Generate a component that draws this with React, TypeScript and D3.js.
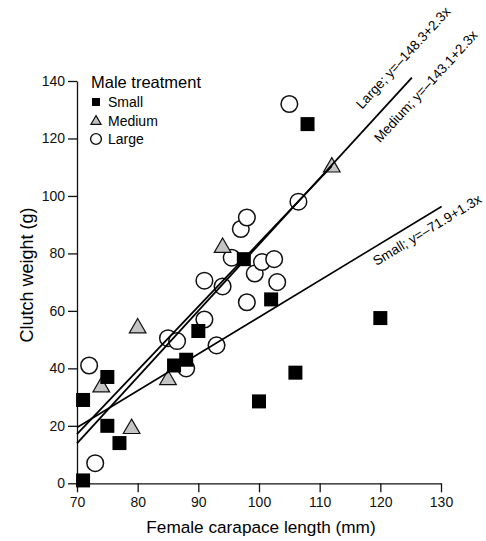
import React, { useEffect, useRef } from "react";
import * as d3 from "d3";

// Female carapace length (mm), clutch weight (g) by male treatment
const smallMales = [
  [71, 1], [71, 29], [75, 37], [75, 20], [77, 14], [86, 41], [88, 43], [90, 53],
  [97.5, 78], [102, 64], [100, 28.5], [106, 38.5], [108, 125], [120, 57.5],
];
const mediumMales = [
  [74, 33.5], [79, 19], [80, 54], [85, 36], [94, 82], [112, 110],
];
const largeMales = [
  [72, 41], [73, 7], [85, 50.5], [86.5, 49.5], [88, 40], [91, 57], [91, 70.5],
  [93, 48], [94, 68.5], [95.5, 78.5], [97, 88.5], [98, 92.5], [98, 63],
  [99.3, 73], [100.5, 77], [102.5, 78], [103, 70], [106.5, 98], [105, 132],
];

// regression lines as drawn in the figure: intercept, slope, x range, printed label
const fits = [
  { name: "Large", a: -147.5, b: 2.306, from: 70, to: 125.2, label: "Large; y=\u2013148.3+2.3x" },
  { name: "Medium", a: -138.3, b: 2.22, from: 70, to: 112, label: "Medium; y=\u2013143.1+2.3x" },
  { name: "Small", a: -70.2, b: 1.28, from: 70, to: 130.1, label: "Small; y=\u201371.9+1.3x" },
];

const xTicks = [70, 80, 90, 100, 110, 120, 130];
const yTicks = [0, 20, 40, 60, 80, 100, 120, 140];
const legendItems = ["Small", "Medium", "Large"];

const FONT = "'Liberation Sans', Arial, Helvetica, sans-serif";

const App = () => {
  const chartRef = useRef<SVGSVGElement>(null);

  useEffect(() => {
    const width = 486;
    const height = 541;

    const svg = d3.select(chartRef.current);
    svg.selectAll("*").remove();
    svg.attr("width", width).attr("height", height);

    const x = d3.scaleLinear().domain([70, 130]).range([77, 441]);
    const y = d3.scaleLinear().domain([0, 140]).range([483.3, 81]);

    // Axes
    const xAxis = svg
      .append("g")
      .attr("transform", `translate(0,${y(0)})`)
      .call(d3.axisBottom(x).tickValues(xTicks).tickSizeInner(9).tickSizeOuter(0).tickPadding(5));
    const yAxis = svg
      .append("g")
      .attr("transform", `translate(${x(70)},0)`)
      .call(d3.axisLeft(y).tickValues(yTicks).tickSizeInner(9).tickSizeOuter(0).tickPadding(3));

    [xAxis, yAxis].forEach((g) => {
      g.selectAll("path, line").attr("stroke", "#111").attr("stroke-width", 1.3);
      g.selectAll("text").attr("font-family", FONT).attr("font-size", 14).attr("fill", "#111");
    });

    // Axis titles
    svg
      .append("text")
      .attr("x", 261)
      .attr("y", 533)
      .attr("text-anchor", "middle")
      .attr("font-family", FONT)
      .attr("font-size", 17.2)
      .text("Female carapace length (mm)");

    svg
      .append("text")
      .attr("transform", `translate(33,275) rotate(-90)`)
      .attr("text-anchor", "middle")
      .attr("font-family", FONT)
      .attr("font-size", 18)
      .text("Clutch weight (g)");

    // Markers: circles, triangles, squares
    const tri = d3.symbol().type(d3.symbolTriangle).size(120);

    svg
      .append("g")
      .selectAll("circle")
      .data(largeMales)
      .join("circle")
      .attr("cx", (d) => x(d[0]))
      .attr("cy", (d) => y(d[1]))
      .attr("r", 8.3)
      .attr("fill", "#fff")
      .attr("stroke", "#111")
      .attr("stroke-width", 1.5);

    svg
      .append("g")
      .selectAll("path")
      .data(mediumMales)
      .join("path")
      .attr("transform", (d) => `translate(${x(d[0])},${y(d[1])})`)
      .attr("d", tri)
      .attr("fill", "#c4c4c4")
      .attr("stroke", "#111")
      .attr("stroke-width", 1.2);

    svg
      .append("g")
      .selectAll("rect")
      .data(smallMales)
      .join("rect")
      .attr("x", (d) => x(d[0]) - 7)
      .attr("y", (d) => y(d[1]) - 7)
      .attr("width", 14)
      .attr("height", 14)
      .attr("fill", "#000");

    // Regression lines
    svg
      .append("g")
      .selectAll("line")
      .data(fits)
      .join("line")
      .attr("x1", (d) => x(d.from))
      .attr("y1", (d) => y(d.a + d.b * d.from))
      .attr("x2", (d) => x(d.to))
      .attr("y2", (d) => y(d.a + d.b * d.to))
      .attr("stroke", "#000")
      .attr("stroke-width", (d) => (d.name === "Small" ? 1.6 : 1.8));

    // Line labels, rotated along each line (anchor x on the line, perpendicular offset in px)
    const labelPos = { Large: [118.8, -15.1], Medium: [117.4, 20.9], Small: [117.9, 17.2] };
    svg
      .append("g")
      .selectAll("text")
      .data(fits)
      .join("text")
      .attr("transform", (d) => {
        const [xd, off] = labelPos[d.name];
        const ref = d.name === "Medium" ? fits[0] : d;
        const px = x(xd);
        const py = y(ref.a + ref.b * xd);
        const ang = (Math.atan2(y(ref.a + ref.b * (xd + 1)) - py, x(xd + 1) - px) * 180) / Math.PI;
        return `translate(${px},${py}) rotate(${ang}) translate(0,${off})`;
      })
      .attr("font-family", FONT)
      .attr("font-size", 13.6)
      .text((d) => d.label);

    // Legend
    const legend = svg.append("g");
    legend
      .append("text")
      .attr("x", 91)
      .attr("y", 88)
      .attr("font-family", FONT)
      .attr("font-size", 16.5)
      .text("Male treatment");

    legendItems.forEach((name, i) => {
      const cy = 102 + i * 18.5;
      if (name === "Small") {
        legend.append("rect").attr("x", 92).attr("y", cy - 4).attr("width", 8).attr("height", 8).attr("fill", "#000");
      } else if (name === "Medium") {
        legend
          .append("path")
          .attr("transform", `translate(96,${cy + 1})`)
          .attr("d", d3.symbol().type(d3.symbolTriangle).size(45)())
          .attr("fill", "#c4c4c4")
          .attr("stroke", "#111")
          .attr("stroke-width", 1.2);
      } else {
        legend
          .append("circle")
          .attr("cx", 96)
          .attr("cy", cy)
          .attr("r", 5.4)
          .attr("fill", "#fff")
          .attr("stroke", "#111")
          .attr("stroke-width", 1.4);
      }
      legend
        .append("text")
        .attr("x", 108)
        .attr("y", cy + 5)
        .attr("font-family", FONT)
        .attr("font-size", 14)
        .text(name);
    });
  }, []);

  return <svg ref={chartRef} style={{ position: "absolute", left: 0, top: 0, background: "#fff" }} />;
};

export default App;
